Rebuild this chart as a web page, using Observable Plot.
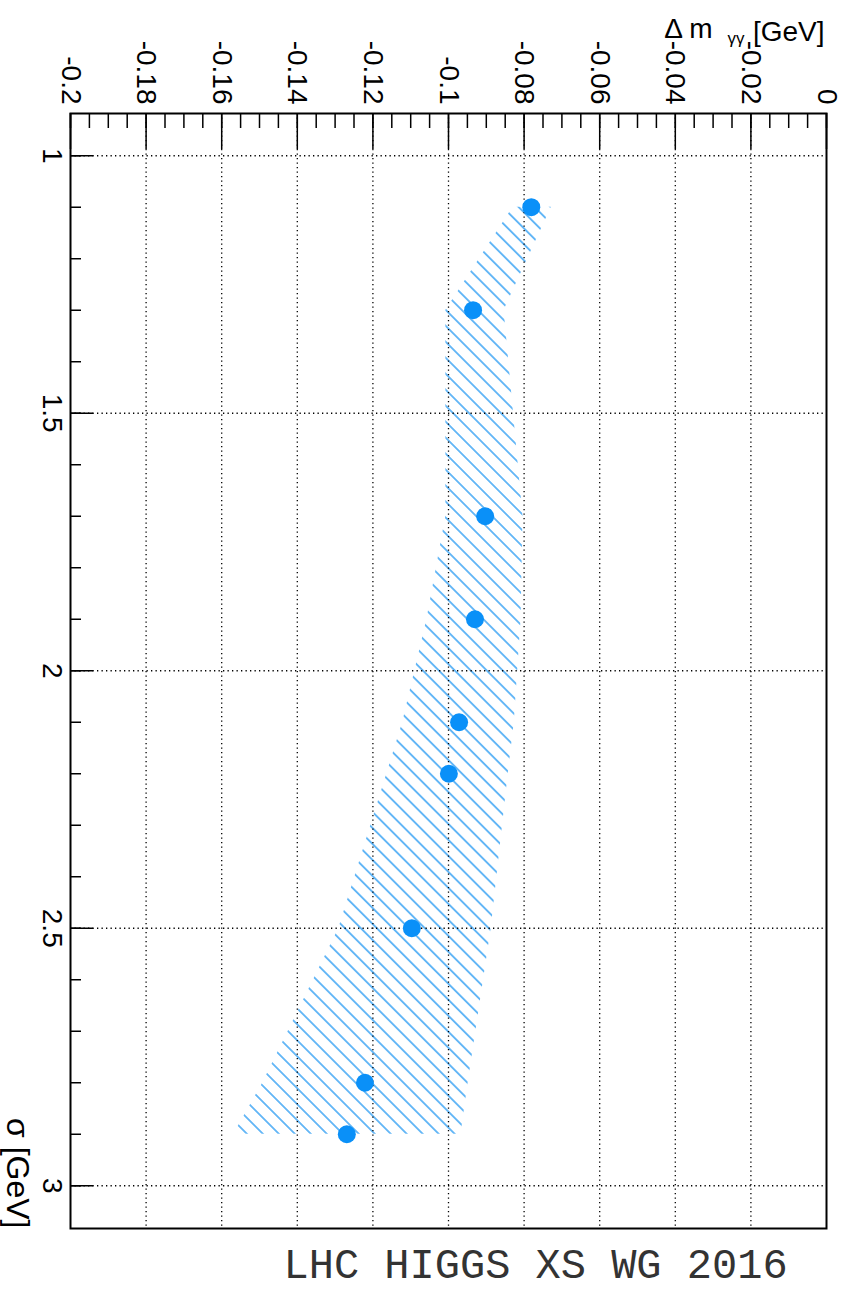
<!DOCTYPE html>
<html><head><meta charset="utf-8">
<script src="https://cdn.jsdelivr.net/npm/d3@7"></script>
<script src="https://cdn.jsdelivr.net/npm/@observablehq/plot@0.6"></script>
<style>body{margin:0;background:#fff}</style>
</head><body><div id="chart"></div>
<script>
// ---- data ----
const sigma    = [1.1, 1.3, 1.7, 1.9, 2.1, 2.2, 2.5, 2.8, 2.9];
const deltaM   = [-0.0781, -0.0935, -0.0903, -0.0930, -0.0972, -0.0999, -0.1097, -0.1221, -0.1269];
const bandLow  = [-0.0829, -0.1007, -0.1007, -0.1057, -0.1121, -0.1163, -0.1290, -0.1491, -0.1568];
const bandHigh = [-0.0728, -0.0853, -0.0803, -0.0808, -0.0826, -0.0842, -0.0887, -0.0948, -0.0967];

const xTicks      = [-0.2, -0.18, -0.16, -0.14, -0.12, -0.1, -0.08, -0.06, -0.04, -0.02, 0];
const xTickLabels = ["-0.2", "-0.18", "-0.16", "-0.14", "-0.12", "-0.1", "-0.08", "-0.06", "-0.04", "-0.02", "0"];
const yTicks      = [1, 1.5, 2, 2.5, 3];
const yTickLabels = ["1", "1.5", "2", "2.5", "3"];
const xGrid = [-0.18, -0.16, -0.14, -0.12, -0.1, -0.08, -0.06, -0.04, -0.02];
const xMinor = d3.ticks(-0.2, 0, 40);
const yMinor = d3.range(10, 31).map(d => d / 10);

const xTitleMain = "Δ m";
const xTitleSub = "γγ";
const xTitleUnit = "[GeV]";
const yTitle = "σ [GeV]";
const footer = "LHC HIGGS XS WG 2016";

// ---- layout ----
const W = 844, H = 1303, mL = 70, mR = 18, mT = 113, mB = 75;
const frameW = W - mL - mR, frameH = H - mT - mB;
const blue = "#0a90f8";
const hatchBlue = "#1b95f2";

const rows = sigma.map((s, i) => ({sigma: s, dm: deltaM[i], lo: bandLow[i], hi: bandHigh[i]}));
const dotted = {stroke: "black", strokeOpacity: 1, strokeWidth: 1.3, strokeDasharray: "1.3,3.2"};
const tickStyle = {stroke: "black", strokeWidth: 1.5};
const font = "'Liberation Sans', Arial, Helvetica, sans-serif";

const svg = Plot.plot({
  width: W, height: H,
  marginLeft: mL, marginRight: mR, marginTop: mT, marginBottom: mB,
  x: {domain: [-0.2, 0], axis: null},
  y: {domain: [0.918, 3.083], reverse: true, axis: null},
  style: {fontFamily: font, background: "white", color: "black"},
  marks: [
    Plot.areaX(rows, {y: "sigma", x1: "lo", x2: "hi", fill: "url(#hatch)", curve: "linear"}),
    Plot.ruleX(xGrid, {x: d => d, ...dotted}),
    Plot.ruleY(yTicks, {y: d => d, ...dotted}),
    Plot.dot(rows, {x: "dm", y: "sigma", r: 9, fill: blue, stroke: "none"}),
    Plot.tickX(xMinor, {x: d => d, insetBottom: frameH - 15, ...tickStyle}),
    Plot.tickX(xTicks, {x: d => d, insetBottom: frameH - 36, ...tickStyle}),
    Plot.tickY(yMinor, {y: d => d, insetRight: frameW - 11, ...tickStyle}),
    Plot.tickY(yTicks, {y: d => d, insetRight: frameW - 23, ...tickStyle}),
    Plot.frame({stroke: "black", strokeWidth: 2}),
    Plot.text(xTicks, {x: d => d, text: (d, i) => xTickLabels[i], frameAnchor: "top", dy: -9,
      rotate: 90, textAnchor: "end", lineAnchor: "middle", fontSize: 28, fill: "black"}),
    Plot.text(yTicks, {y: d => d, text: (d, i) => yTickLabels[i], frameAnchor: "left", dx: -8,
      rotate: 90, textAnchor: "middle", lineAnchor: "top", fontSize: 28, fill: "black"}),
    Plot.text([yTitle], {frameAnchor: "bottom-left", dx: -41, dy: 0, rotate: 90,
      textAnchor: "end", lineAnchor: "top", fontSize: 32, fill: "black"}),
    Plot.text([xTitleUnit], {frameAnchor: "top-right", dx: -2, dy: -73, textAnchor: "end",
      lineAnchor: "bottom", fontSize: 28, fill: "black"}),
    Plot.text([xTitleSub], {frameAnchor: "top-right", dx: -82, dy: -70, textAnchor: "end",
      lineAnchor: "bottom", fontSize: 17, fill: "black"}),
    Plot.text([xTitleMain], {frameAnchor: "top-right", dx: -114, dy: -76, textAnchor: "end",
      lineAnchor: "bottom", fontSize: 28, fill: "black"}),
    Plot.text([footer], {frameAnchor: "bottom-left", dx: 213, dy: 49, textAnchor: "start",
      lineAnchor: "bottom", fontSize: 42, fontFamily: "'Liberation Mono', 'Courier New', monospace", fill: "#333"})
  ]
});

// hatch pattern definition used by the band fill
const ns = "http://www.w3.org/2000/svg";
const defs = document.createElementNS(ns, "defs");
const pat = document.createElementNS(ns, "pattern");
const sp = 11.3;
pat.setAttribute("id", "hatch");
pat.setAttribute("patternUnits", "userSpaceOnUse");
pat.setAttribute("width", sp);
pat.setAttribute("height", sp);
pat.setAttribute("patternTransform", "rotate(-45)");
const ln = document.createElementNS(ns, "line");
ln.setAttribute("x1", sp / 2); ln.setAttribute("y1", -1);
ln.setAttribute("x2", sp / 2); ln.setAttribute("y2", sp + 1);
ln.setAttribute("stroke", hatchBlue);
ln.setAttribute("stroke-width", 1.3);
pat.appendChild(ln);
defs.appendChild(pat);
svg.insertBefore(defs, svg.firstChild);

document.getElementById("chart").appendChild(svg);
</script>
</body></html>
